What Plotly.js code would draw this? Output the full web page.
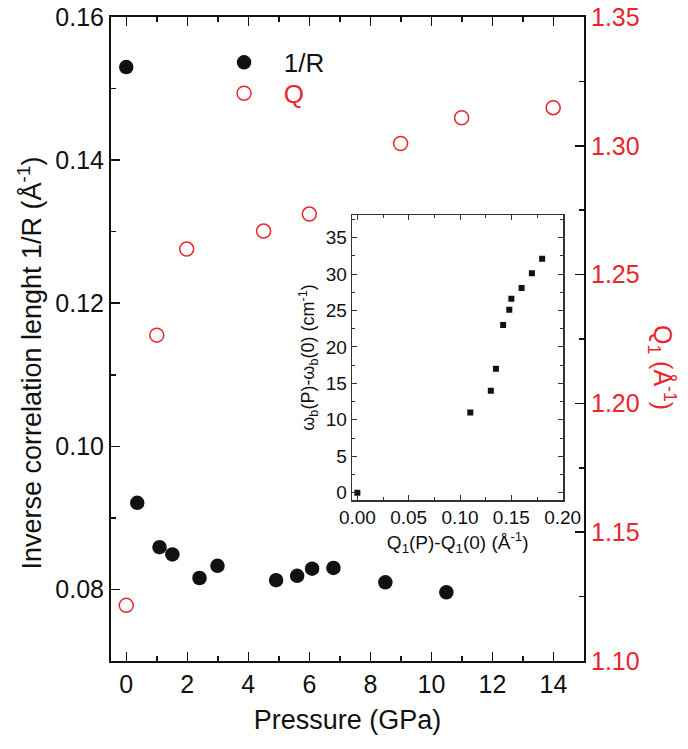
<!DOCTYPE html>
<html>
<head>
<meta charset="utf-8">
<script src="https://cdn.plot.ly/plotly-3.0.1.min.js"></script>
<style>html,body{margin:0;padding:0;background:#fff;}#chart{width:688px;height:749px;}</style>
</head>
<body>
<div id="chart"></div>
<script>
// Main panel: inverse correlation length 1/R vs pressure
var pressureR = [0, 0.36, 1.09, 1.51, 2.40, 2.99, 4.91, 5.60, 6.09, 6.79, 8.49, 10.49];
var invR      = [0.1530, 0.0921, 0.0859, 0.0849, 0.0816, 0.0833, 0.0813, 0.0819, 0.0829, 0.0830, 0.0810, 0.0796];
// Main panel: Q1 position vs pressure (right axis)
var pressureQ = [0, 1.0, 1.98, 4.50, 6.0, 8.99, 10.99, 13.99];
var q1        = [1.1216, 1.2265, 1.2599, 1.2669, 1.2735, 1.3009, 1.3109, 1.3148];
// Inset: boson peak shift vs Q1 shift
var dQ1    = [0.000, 0.110, 0.130, 0.135, 0.142, 0.148, 0.150, 0.160, 0.170, 0.180];
var dOmega = [0.0, 11.0, 14.0, 17.0, 23.0, 25.1, 26.6, 28.1, 30.1, 32.1];
// Legend labels
var seriesNames = ['1/R', 'Q'];

var RED = '#e8262c';
var FONT = 'Liberation Sans, Arial, sans-serif';
var PAD = '\u00a0\u00a0\u2009';

var traces = [
  {x: pressureR, y: invR, type: 'scatter', mode: 'markers', name: PAD + seriesNames[0],
   xaxis: 'x', yaxis: 'y', legend: 'legend',
   marker: {symbol: 'circle', size: 14.5, color: '#111'}},
  {x: pressureQ, y: q1, type: 'scatter', mode: 'markers',
   name: PAD + '<span style="color:' + RED + '">' + seriesNames[1] + '</span>',
   xaxis: 'x', yaxis: 'y3', legend: 'legend2',
   marker: {symbol: 'circle-open', size: 14, color: RED, line: {width: 1.5, color: RED}}},
  {x: dQ1, y: dOmega, type: 'scatter', mode: 'markers', showlegend: false,
   xaxis: 'x2', yaxis: 'y2',
   marker: {symbol: 'square', size: 6, color: '#111'}}
];

var layout = {
  width: 688, height: 749,
  margin: {l: 111, r: 104, t: 17, b: 88},
  paper_bgcolor: '#fff', plot_bgcolor: 'rgba(0,0,0,0)',
  font: {family: FONT, color: '#111', size: 25},
  showlegend: true,
  legend: {x: 0.239, y: 0.966, xanchor: 'left', yanchor: 'top',
           bgcolor: 'rgba(0,0,0,0)', font: {size: 26, color: '#111'}},
  legend2: {x: 0.239, y: 0.918, xanchor: 'left', yanchor: 'top',
           bgcolor: 'rgba(0,0,0,0)', font: {size: 26, color: RED}},
  xaxis: {domain: [0, 1], range: [-0.5, 15], anchor: 'y',
          showline: true, linecolor: '#111', linewidth: 2, mirror: 'ticks',
          ticks: 'inside', ticklen: 9, tickwidth: 1.5, tickcolor: '#111',
          dtick: 2, tick0: 0, showgrid: false, zeroline: false,
          minor: {dtick: 1, ticks: 'inside', ticklen: 5, tickwidth: 1.5, tickcolor: '#111', showgrid: false},
          tickfont: {size: 25, color: '#111'},
          title: {text: 'Pressure (GPa)', font: {size: 27, color: '#111'}, standoff: 13}},
  yaxis: {domain: [0, 1], range: [0.07, 0.16], anchor: 'x',
          showline: true, linecolor: '#111', linewidth: 2,
          ticks: 'inside', ticklen: 9, tickwidth: 1.5, tickcolor: '#111',
          dtick: 0.02, tick0: 0.08, tickformat: '.2f', showgrid: false, zeroline: false,
          minor: {dtick: 0.01, ticks: 'inside', ticklen: 5, tickwidth: 1.5, tickcolor: '#111', showgrid: false},
          tickfont: {size: 25, color: '#111'}},
  yaxis3: {overlaying: 'y', side: 'right', anchor: 'x', range: [1.10, 1.35],
          showline: true, linecolor: '#111', linewidth: 2,
          ticks: 'inside', ticklen: 9, tickwidth: 1.5, tickcolor: '#111',
          dtick: 0.05, tick0: 1.10, tickformat: '.2f', showgrid: false, zeroline: false,
          minor: {dtick: 0.025, ticks: 'inside', ticklen: 5, tickwidth: 1.5, tickcolor: '#111', showgrid: false},
          tickfont: {size: 25, color: RED}},
  xaxis2: {domain: [0.510, 0.956], range: [-0.005, 0.2005], anchor: 'y2',
          showline: true, linecolor: '#333', linewidth: 1.5, mirror: 'ticks',
          ticks: 'inside', ticklen: 5, tickwidth: 1, tickcolor: '#333',
          dtick: 0.05, tick0: 0, tickformat: '.2f', showgrid: false, zeroline: false,
          minor: {dtick: 0.025, ticks: 'inside', ticklen: 3, tickwidth: 1, tickcolor: '#333', showgrid: false},
          tickfont: {size: 19, color: '#111'},
          title: {text: 'Q<sub>1</sub>(P)-Q<sub>1</sub>(0) (Å<sup>-1</sup>)', font: {size: 19, color: '#111'}, standoff: 8}},
  yaxis2: {domain: [0.25, 0.6925], range: [-1, 38.1], anchor: 'x2',
          showline: true, linecolor: '#333', linewidth: 1.5, mirror: 'ticks',
          ticks: 'inside', ticklen: 5, tickwidth: 1, tickcolor: '#333',
          dtick: 5, tick0: 0, showgrid: false, zeroline: false,
          minor: {dtick: 2.5, ticks: 'inside', ticklen: 3, tickwidth: 1, tickcolor: '#333', showgrid: false},
          tickfont: {size: 19, color: '#111'},
          title: {text: 'ω<sub>b</sub>(P)-ω<sub>b</sub>(0) (cm<sup>-1</sup>)', font: {size: 18, color: '#111'}, standoff: 6}},
  annotations: [
    {xref: 'paper', yref: 'paper', x: -0.171, y: 0.462, xanchor: 'center', yanchor: 'middle',
     showarrow: false, textangle: -90,
     text: 'Inverse correlation lenght 1/R (Å<sup>-1</sup>)', font: {size: 27, color: '#111', family: FONT}},
    {xref: 'paper', yref: 'paper', x: 1.165, y: 0.4565, xanchor: 'center', yanchor: 'middle',
     showarrow: false, textangle: 90,
     text: 'Q<sub>1</sub> (Å<sup>-1</sup>)', font: {size: 25, color: RED, family: FONT}}
  ]
};

Plotly.newPlot('chart', traces, layout, {displayModeBar: false, staticPlot: true});
</script>
</body>
</html>
